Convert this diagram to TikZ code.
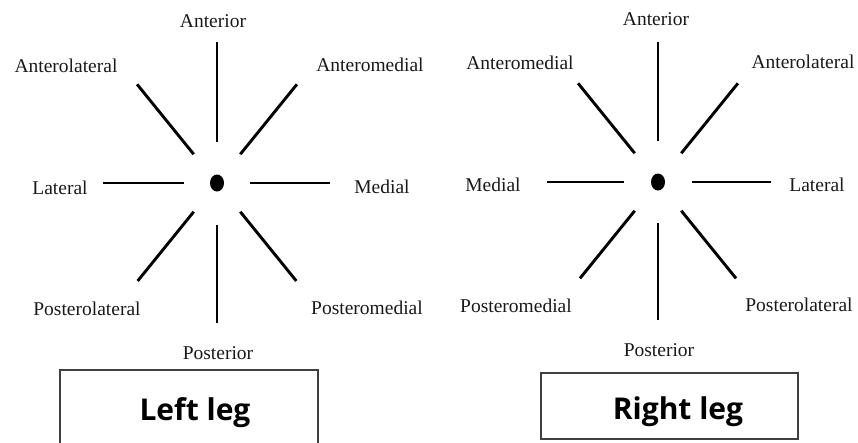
\documentclass[tikz,border=0pt]{standalone}
\usepackage{fontspec}
\setmainfont{Liberation Serif}
\newfontfamily\legfont{Open Sans}
\usetikzlibrary{shapes.geometric}
\tikzset{
  dirlabel/.style={inner sep=0pt, text=black!90, font=\fontsize{19.5}{22}\selectfont},
  spoke/.style={black, line width=2.9pt},
  hub/.style={ellipse, fill=black, inner sep=0pt, minimum width=14pt, minimum height=17pt},
  legbox/.style={draw=black!75, line width=1.2pt, inner sep=0pt},
  legtext/.style={inner sep=0pt, font=\legfont\bfseries\fontsize{30}{36}\selectfont}
}
\begin{document}
\begin{tikzpicture}[x=1pt,y=1pt]
  \useasboundingbox (0,0) rectangle (858,-442);
  \clip (0,0) rectangle (858,-442);
  % left leg
  \node (lhub) [hub] at (217,-183) {};
  \draw [spoke] ([shift={(90:41)}]lhub.center) -- ([shift={(90:141)}]lhub.center);
  \draw [spoke] ([shift={(51:37)}]lhub.center) -- ([shift={(51:127)}]lhub.center);
  \draw [spoke] ([shift={(129:37)}]lhub.center) -- ([shift={(129:127)}]lhub.center);
  \draw [spoke] ([shift={(180:33)}]lhub.center) -- ([shift={(180:114)}]lhub.center);
  \draw [spoke] ([shift={(0:33)}]lhub.center) -- ([shift={(0:113)}]lhub.center);
  \draw [spoke] ([shift={(231:37)}]lhub.center) -- ([shift={(231:126)}]lhub.center);
  \draw [spoke] ([shift={(309:37)}]lhub.center) -- ([shift={(309:126)}]lhub.center);
  \draw [spoke] ([shift={(270:42)}]lhub.center) -- ([shift={(270:140)}]lhub.center);
  \node (lant) [dirlabel] at (213,-21) {Anterior};
  \node (lantlat) [dirlabel] at (66,-66) {Anterolateral};
  \node (lantmed) [dirlabel] at (370,-65) {Anteromedial};
  \node (llat) [dirlabel] at (60,-188) {Lateral};
  \node (lmed) [dirlabel] at (382,-187) {Medial};
  \node (lpostlat) [dirlabel] at (87,-309) {Posterolateral};
  \node (lpostmed) [dirlabel] at (367,-308) {Posteromedial};
  \node (lpost) [dirlabel] at (218,-353) {Posterior};
  \node (lbox) [legbox, minimum width=258pt, minimum height=80pt] at (189,-410) {};
  \node (ltxt) [legtext] at (195,-413) {Left leg};
  % right leg
  \node (rhub) [hub] at (658,-182) {};
  \draw [spoke] ([shift={(90:41)}]rhub.center) -- ([shift={(90:140)}]rhub.center);
  \draw [spoke] ([shift={(51:37)}]rhub.center) -- ([shift={(51:127)}]rhub.center);
  \draw [spoke] ([shift={(129:37)}]rhub.center) -- ([shift={(129:127)}]rhub.center);
  \draw [spoke] ([shift={(180:34)}]rhub.center) -- ([shift={(180:111)}]rhub.center);
  \draw [spoke] ([shift={(0:34)}]rhub.center) -- ([shift={(0:113)}]rhub.center);
  \draw [spoke] ([shift={(231:37)}]rhub.center) -- ([shift={(231:124)}]rhub.center);
  \draw [spoke] ([shift={(309:37)}]rhub.center) -- ([shift={(309:124)}]rhub.center);
  \draw [spoke] ([shift={(270:41)}]rhub.center) -- ([shift={(270:138)}]rhub.center);
  \node (rant) [dirlabel] at (656,-19) {Anterior};
  \node (rantmed) [dirlabel] at (520,-63) {Anteromedial};
  \node (rantlat) [dirlabel] at (803,-62) {Anterolateral};
  \node (rmed) [dirlabel] at (493,-185) {Medial};
  \node (rlat) [dirlabel] at (817,-185) {Lateral};
  \node (rpostmed) [dirlabel] at (516,-306) {Posteromedial};
  \node (rpostlat) [dirlabel] at (799,-305) {Posterolateral};
  \node (rpost) [dirlabel] at (659,-350) {Posterior};
  \node (rbox) [legbox, minimum width=257pt, minimum height=66pt] at (669.5,-406) {};
  \node (rtxt) [legtext] at (678,-412) {Right leg};
\end{tikzpicture}
\end{document}
